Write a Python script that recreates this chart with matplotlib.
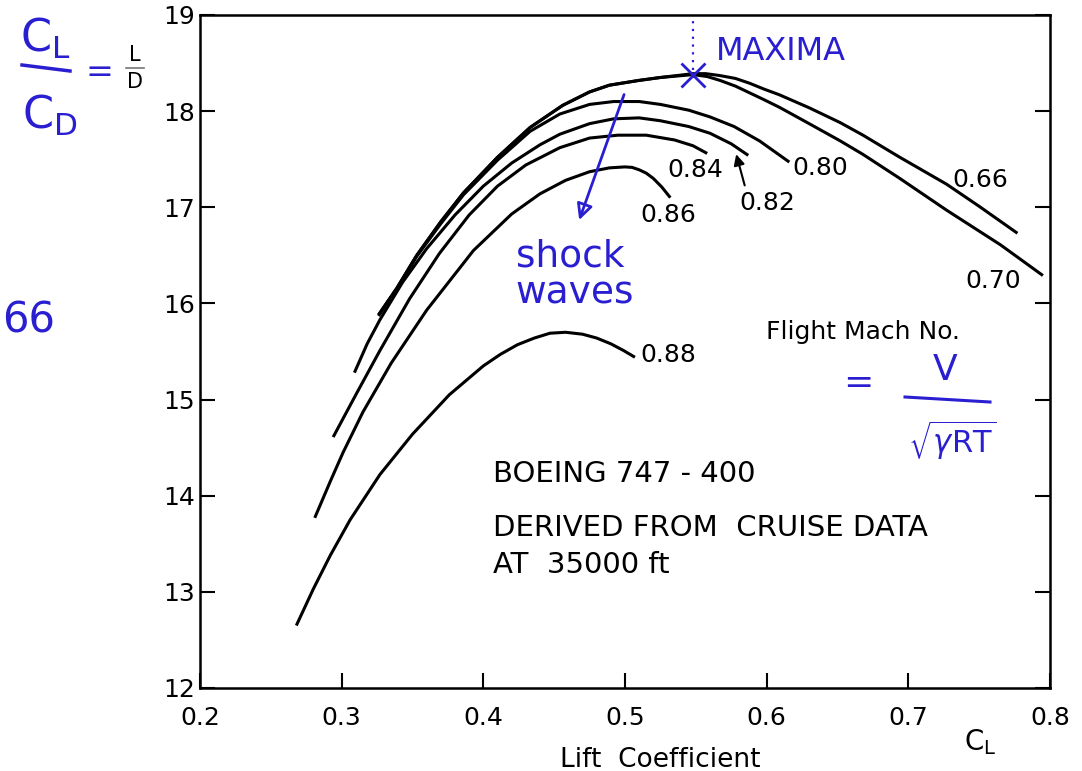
import matplotlib
matplotlib.use('Agg')
import matplotlib.pyplot as plt
from matplotlib.lines import Line2D

plt.rcParams['font.family'] = ['DejaVu Sans']
plt.rcParams['mathtext.fontset'] = 'dejavusans'

W, H = 1082, 771
BLUE = '#2a1fd0'

# curves: lift coefficient vs L/D for each flight Mach number
cl_066 = [0.326, 0.339, 0.353, 0.370, 0.386, 0.410, 0.433, 0.456, 0.475, 0.489, 0.510, 0.525,
          0.548, 0.557, 0.567, 0.578, 0.588, 0.598, 0.609, 0.630, 0.652, 0.668, 0.694, 0.727,
          0.750, 0.777]
ld_066 = [15.88, 16.16, 16.50, 16.85, 17.15, 17.52, 17.83, 18.06, 18.20, 18.27, 18.32, 18.35,
          18.39, 18.39, 18.37, 18.34, 18.29, 18.23, 18.17, 18.035, 17.88, 17.75, 17.52, 17.24,
          17.01, 16.73]

cl_070 = [0.326, 0.339, 0.353, 0.370, 0.386, 0.410, 0.433, 0.456, 0.475, 0.489, 0.510, 0.525,
          0.548, 0.558, 0.567, 0.578, 0.588, 0.598, 0.609, 0.630, 0.652, 0.668, 0.694, 0.727,
          0.765, 0.795]
ld_070 = [15.88, 16.16, 16.50, 16.85, 17.15, 17.52, 17.83, 18.06, 18.20, 18.27, 18.32, 18.35,
          18.38, 18.36, 18.32, 18.26, 18.19, 18.12, 18.04, 17.87, 17.69, 17.55, 17.30, 16.97,
          16.61, 16.29]

cl_080 = [0.326, 0.339, 0.353, 0.370, 0.386, 0.410, 0.433, 0.454, 0.475, 0.492, 0.510, 0.525,
          0.545, 0.560, 0.577, 0.595, 0.616]
ld_080 = [15.87, 16.15, 16.49, 16.83, 17.13, 17.49, 17.79, 17.97, 18.07, 18.10, 18.10, 18.07,
          18.01, 17.94, 17.84, 17.69, 17.47]

cl_082 = [0.309, 0.318, 0.327, 0.343, 0.360, 0.380, 0.400, 0.420, 0.440, 0.454, 0.475, 0.492,
          0.510, 0.525, 0.545, 0.560, 0.575, 0.587]
ld_082 = [15.28, 15.58, 15.83, 16.22, 16.57, 16.92, 17.22, 17.46, 17.65, 17.76, 17.87, 17.92,
          17.93, 17.90, 17.84, 17.77, 17.66, 17.54]

cl_084 = [0.294, 0.310, 0.327, 0.348, 0.369, 0.390, 0.410, 0.430, 0.454, 0.475, 0.495, 0.515,
          0.535, 0.548, 0.558]
ld_084 = [14.61, 15.05, 15.51, 16.05, 16.52, 16.92, 17.22, 17.44, 17.62, 17.72, 17.75, 17.75,
          17.70, 17.64, 17.56]

cl_086 = [0.281, 0.292, 0.301, 0.315, 0.335, 0.360, 0.393, 0.420, 0.440, 0.458, 0.475, 0.489,
          0.500, 0.505, 0.510, 0.515, 0.520, 0.526, 0.532]
ld_086 = [13.77, 14.15, 14.45, 14.87, 15.38, 15.93, 16.55, 16.93, 17.14, 17.28, 17.37, 17.41,
          17.42, 17.415, 17.39, 17.355, 17.30, 17.21, 17.10]

cl_088 = [0.268, 0.280, 0.292, 0.306, 0.327, 0.350, 0.376, 0.400, 0.412, 0.424, 0.436, 0.447,
          0.458, 0.470, 0.480, 0.490, 0.499, 0.507]
ld_088 = [12.65, 13.03, 13.38, 13.75, 14.22, 14.64, 15.05, 15.35, 15.47, 15.57, 15.64, 15.69,
          15.70, 15.68, 15.64, 15.58, 15.51, 15.44]

mach_labels = ['0.66', '0.70', '0.80', '0.82', '0.84', '0.86', '0.88']
curves = [(cl_066, ld_066), (cl_070, ld_070), (cl_080, ld_080), (cl_082, ld_082),
          (cl_084, ld_084), (cl_086, ld_086), (cl_088, ld_088)]

x_ticks = [0.2, 0.3, 0.4, 0.5, 0.6, 0.7, 0.8]
y_ticks = [12, 13, 14, 15, 16, 17, 18, 19]

max_cl, max_ld = 0.548, 18.38

# where the mach labels sit (left edge, vertical centre)
label_pos = {'0.66': (0.731, 17.28), '0.70': (0.740, 16.23), '0.80': (0.618, 17.41),
             '0.82': (0.581, 17.04), '0.84': (0.530, 17.385), '0.86': (0.511, 16.92),
             '0.88': (0.511, 15.46)}


def fpx(x, y):
    # pixel position -> figure fraction
    return x / W, 1 - y / H


fig = plt.figure(figsize=(W / 100, H / 100), dpi=100)
ax = fig.add_axes([200 / W, 1 - 688 / H, 850 / W, 673 / H])

for (cl, ld) in curves:
    ax.plot(cl, ld, color='black', lw=2.2, solid_capstyle='butt', solid_joinstyle='round')

for lab in mach_labels:
    x, y = label_pos[lab]
    ax.text(x, y, lab, fontsize=18, ha='left', va='center')

# arrow pointing to the end of the 0.82 curve
ax.annotate('', xy=(0.578, 17.58), xytext=(0.585, 17.20),
            arrowprops=dict(arrowstyle='-|>', color='black', lw=1.5, mutation_scale=16))

ax.set_xlim(0.2, 0.8)
ax.set_ylim(12, 19)
ax.set_xticks(x_ticks)
ax.set_yticks(y_ticks)
ax.set_xticklabels([f'{v:.1f}' for v in x_ticks])
ax.set_yticklabels([str(v) for v in y_ticks])
ax.tick_params(direction='in', length=11, width=1.5, labelsize=18, right=True)
ax.tick_params(axis='x', pad=13)
ax.tick_params(axis='y', pad=3.5)
for s in ax.spines.values():
    s.set_linewidth(1.8)

# printed texts
ax.text(0.668, 15.7, 'Flight Mach No.', fontsize=18, ha='center', va='center')
ax.text(0.407, 14.23, 'BOEING 747 - 400', fontsize=21, ha='left', va='center')
ax.text(0.407, 13.66, 'DERIVED FROM  CRUISE DATA', fontsize=21, ha='left', va='center')
ax.text(0.407, 13.28, 'AT  35000 ft', fontsize=21, ha='left', va='center')

fig.text(*fpx(660, 760), 'Lift  Coefficient', fontsize=19, ha='center', va='center')
fig.text(*fpx(980, 742), r'$\mathregular{C_L}$', fontsize=20, ha='center', va='center')
fig.text(*fpx(135, 55), 'L', fontsize=15, ha='center', va='center')
fig.text(*fpx(135, 82), 'D', fontsize=15, ha='center', va='center')
fig.add_artist(Line2D([126 / W, 144 / W], [1 - 68 / H, 1 - 68 / H], color='#777777', lw=1.2))

# handwritten notes (blue)
fig.text(*fpx(45, 38), r'$\mathregular{C_L}$', fontsize=32, color=BLUE, ha='center', va='center')
fig.text(*fpx(50, 115), r'$\mathregular{C_D}$', fontsize=32, color=BLUE, ha='center', va='center')
fig.add_artist(Line2D([22 / W, 70 / W], [1 - 65 / H, 1 - 71 / H], color=BLUE, lw=2.5))
fig.text(*fpx(99, 72), '=', fontsize=24, color=BLUE, ha='center', va='center')
fig.text(*fpx(2, 320), '66', fontsize=30, color=BLUE, ha='left', va='center')

ax.plot([max_cl, max_cl], [max_ld + 0.05, 19], color=BLUE, lw=1.6, ls=(0, (1, 2.5)), clip_on=False)
ax.plot([max_cl], [max_ld], marker='x', ms=17, mew=2, color=BLUE)
fig.text(*fpx(716, 52), 'MAXIMA', fontsize=23, color=BLUE, ha='left', va='center')

ax.annotate('', xy=(0.467, 16.84), xytext=(0.500, 18.20),
            arrowprops=dict(arrowstyle='-|>', ec=BLUE, fc='none', lw=2, mutation_scale=24))
fig.text(*fpx(570, 257), 'shock', fontsize=27, color=BLUE, ha='center', va='center')
fig.text(*fpx(575, 293), 'waves', fontsize=27, color=BLUE, ha='center', va='center')

fig.text(*fpx(858, 383), '=', fontsize=26, color=BLUE, ha='center', va='center')
fig.text(*fpx(945, 370), 'V', fontsize=26, color=BLUE, ha='center', va='center')
fig.add_artist(Line2D([905 / W, 990 / W], [1 - 397 / H, 1 - 402 / H], color=BLUE, lw=2.2))
fig.text(*fpx(952, 440), r'$\sqrt{\gamma\mathregular{RT}}$', fontsize=22, color=BLUE,
         ha='center', va='center')

fig.savefig('out.png', dpi=100)
